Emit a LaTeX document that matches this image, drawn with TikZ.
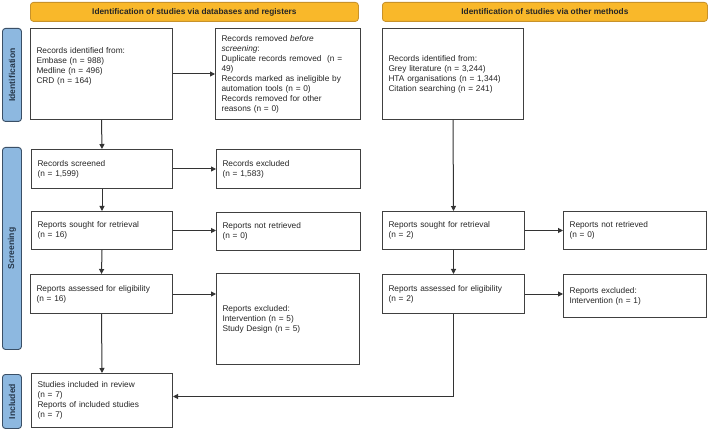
\documentclass[tikz,border=0pt]{standalone}
\usepackage{fontspec}
\setmainfont{Liberation Sans}
\usetikzlibrary{arrows.meta}
\definecolor{hdrfill}{HTML}{F9B82A}
\definecolor{hdrline}{HTML}{C8922A}
\definecolor{sidefill}{HTML}{8DB8E0}
\definecolor{sideline}{HTML}{3A4F66}
\definecolor{sidetext}{HTML}{26374A}
\definecolor{boxline}{HTML}{404040}
\definecolor{arrowline}{HTML}{333333}
\newcommand{\fs}{\fontsize{8.3}{10}\selectfont}
\tikzset{
  box/.style={draw=boxline, line width=1pt, fill=white, align=left, inner xsep=6pt, inner ysep=0pt, anchor=north west, font=\fs, text=black!85},
  hdr/.style={draw=hdrline, line width=0.8pt, fill=hdrfill, rounded corners=3pt, anchor=north west, font=\fs\bfseries, text=black!85, inner sep=0pt},
  side/.style={draw=sideline, line width=0.9pt, fill=sidefill, rounded corners=3pt, anchor=north west, inner sep=0pt},
  sidelbl/.style={rotate=90, font=\fontsize{8.6}{10}\selectfont\bfseries, text=sidetext},
  arr/.style={draw=arrowline, line width=1pt, -{Triangle[length=5pt,width=5pt]}},
  ln/.style={draw=arrowline, line width=1pt}
}
\begin{document}
\begin{tikzpicture}[x=1pt,y=1pt]
\useasboundingbox (0,0) rectangle (709,-430);
% headers
\node[hdr, minimum width=328, minimum height=19] (h1) at (30,-2) {Identification of studies via databases and registers};
\node[hdr, minimum width=325, minimum height=19] (h2) at (382,-2) {Identification of studies via other methods};
% side bars
\node[side, minimum width=19, minimum height=93] (s1) at (2,-28) {};
\node[sidelbl] at (s1.center) {Identification};
\node[side, minimum width=19, minimum height=202] (s2) at (2,-147) {};
\node[sidelbl] at (s2.center) {Screening};
\node[side, minimum width=19, minimum height=54] (s3) at (2,-374) {};
\node[sidelbl] at (s3.center) {Included};
% boxes
\node[box, minimum width=142, minimum height=91, text width=130] (A) at (30,-28) {Records identified from:\\ Embase (n = 988)\\ Medline (n = 496)\\ CRD (n = 164)\\[7pt]\mbox{}};
\node[box, minimum width=145, minimum height=91, text width=133] (B) at (215,-28) {Records removed \emph{before}\\ \emph{screening}:\\ Duplicate records removed~~(n =\\ 49)\\ Records marked as ineligible by\\ automation tools (n = 0)\\ Records removed for other\\ reasons (n = 0)};
\node[box, minimum width=141, minimum height=91, text width=129] (C) at (382,-28) {Records identified from:\\ Grey literature (n = 3,244)\\ HTA organisations (n = 1,344)\\ Citation searching (n = 241)};
\node[box, minimum width=141, minimum height=39, text width=129] (D) at (31,-149) {Records screened\\ (n = 1,599)};
\node[box, minimum width=144, minimum height=39, text width=132] (E) at (216,-149) {Records excluded\\ (n = 1,583)};
\node[box, minimum width=141, minimum height=38, text width=129] (F) at (31,-211) {Reports sought for retrieval\\ (n = 16)};
\node[box, minimum width=144, minimum height=38, text width=132] (G) at (216,-212) {Reports not retrieved\\ (n = 0)};
\node[box, minimum width=142, minimum height=38, text width=130] (H) at (382,-211) {Reports sought for retrieval\\ (n = 2)};
\node[box, minimum width=143, minimum height=38, text width=131] (I) at (563,-211) {Reports not retrieved\\ (n = 0)};
\node[box, minimum width=142, minimum height=39, text width=130] (J) at (30,-274) {Reports assessed for eligibility\\ (n = 16)};
\node[box, minimum width=143, minimum height=91, text width=131] (K) at (216,-273) {Reports excluded:\\ Intervention (n = 5)\\ Study Design (n = 5)};
\node[box, minimum width=142, minimum height=39, text width=130] (L) at (382,-274) {Reports assessed for eligibility\\ (n = 2)};
\node[box, minimum width=143, minimum height=43, text width=131] (M) at (563,-274) {Reports excluded:\\ Intervention (n = 1)};
\node[box, minimum width=141, minimum height=54, text width=129] (N) at (31,-373) {Studies included in review\\ (n = 7)\\ Reports of included studies\\ (n = 7)};
% connectors
\draw[arr] (A.south) -- (D.north);
\draw[arr] (A.east) -- (B.west);
\draw[arr] (C.south) -- (H.north);
\draw[arr] (D.east) -- (E.west);
\draw[arr] (D.south) -- (F.north);
\draw[arr] (F.east) -- (F.east -| G.west);
\draw[arr] (F.south) -- (J.north);
\draw[arr] (H.east) -- (I.west);
\draw[arr] (H.south) -- (L.north);
\draw[arr] (J.east) -- (J.east -| K.west);
\draw[arr] (L.east) -- (L.east -| M.west);
\draw[arr] (J.south) -- (N.north);
\coordinate (turn) at ([yshift=4pt]N.east);
\draw[arr] (L.south) |- (turn);
\end{tikzpicture}
\end{document}
